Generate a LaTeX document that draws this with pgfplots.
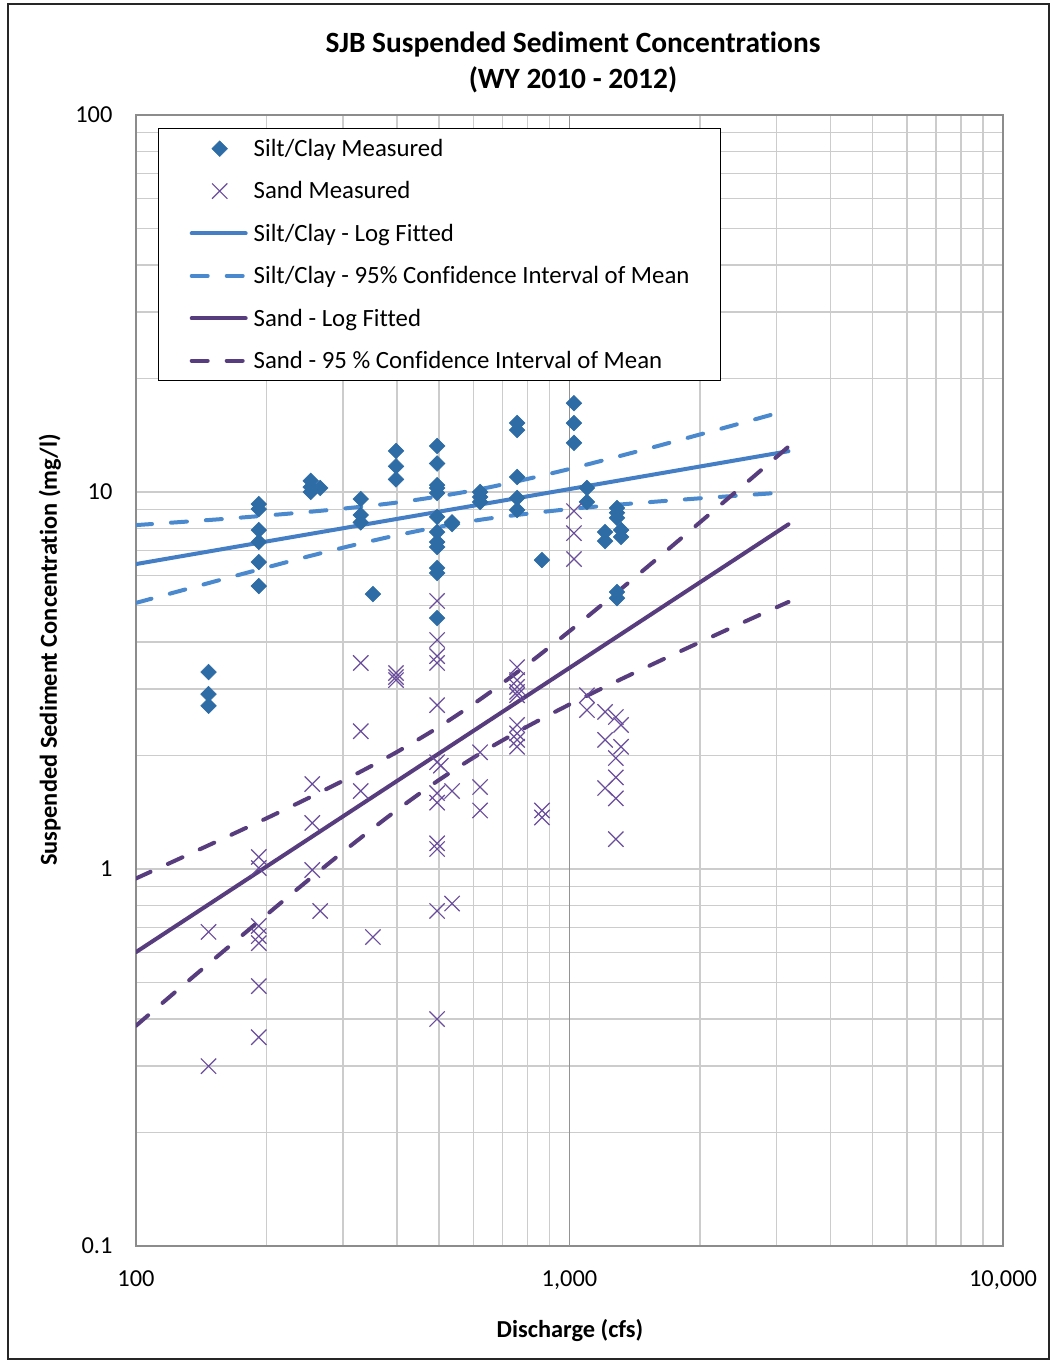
\documentclass[border=0pt]{standalone}
\usepackage{fontspec}
\setmainfont{Carlito}[Ligatures=NoCommon]
\usepackage{pgfplots}
\pgfplotsset{compat=1.18}
\definecolor{siltpt}{RGB}{46,108,166}
\definecolor{siltline}{RGB}{68,126,196}
\definecolor{siltdash}{RGB}{74,137,205}
\definecolor{sandpt}{RGB}{106,76,156}
\definecolor{sandline}{RGB}{88,61,126}
\definecolor{gridc}{RGB}{204,204,204}
\definecolor{axisc}{RGB}{140,140,140}
\pgfplotsset{
  marklegend/.style={legend image code/.code={\path[draw=none,fill=none] (0pt,-3pt) rectangle (29pt,3pt);
    \draw[##1] plot coordinates {(15pt,0pt)};}},
  linelegend/.style={legend image code/.code={\path[draw=none,fill=none] (0pt,-3pt) rectangle (29pt,3pt);
    \draw[##1] (1pt,0pt) -- (28pt,0pt);}},
}
\begin{document}
\fontsize{12.2}{14.6}\selectfont
\begin{tikzpicture}
\path[use as bounding box] (-68pt,-58pt) rectangle (457.5pt,623pt);
\fill[white] (-68pt,-58pt) rectangle (457.5pt,623pt);
\draw[line width=0.8pt, black!85] (-64pt,-56.5pt) rectangle (456.5pt,621pt);
\begin{loglogaxis}[
  at={(0pt,0pt)}, anchor=south west,
  scale only axis, width=433.5pt, height=565.5pt,
  xmin=100, xmax=10000, ymin=0.1, ymax=100,
  xtick={100,1000,10000}, xticklabels={100,{1,000},{10,000}},
  ytick={0.1,1,10,100}, yticklabels={0.1,1,10,100},
  minor xtick={200,300,400,500,600,700,800,900,2000,3000,4000,5000,6000,7000,8000,9000},
  minor ytick={0.2,0.3,0.4,0.5,0.6,0.7,0.8,0.9,2,3,4,5,6,7,8,9,20,30,40,50,60,70,80,90},
  grid=both,
  major grid style={color=gridc, line width=0.7pt},
  minor grid style={color=gridc, line width=0.7pt},
  extra x ticks={1000}, extra x tick labels={},
  extra x tick style={grid=major, major grid style={color=black!42, line width=0.7pt}},
  major tick length=0pt, minor tick length=0pt,
  axis line style={color=axisc, line width=0.7pt},
  tick label style={font=\fontsize{12.2}{14.6}\selectfont},
  xticklabel style={yshift=-8pt},
  yticklabel style={xshift=-7.5pt},
  title={SJB Suspended Sediment Concentrations\\(WY 2010 - 2012)},
  title style={at={(axis description cs:0.504,1.0358)}, anchor=center, align=center,
    font=\bfseries\fontsize{14.7}{18}\selectfont},
  xlabel={Discharge (cfs)},
  xlabel style={at={(axis description cs:0.5006,-0.0743)}, anchor=center,
    font=\bfseries\fontsize{12.2}{14.6}\selectfont},
  ylabel={Suspended Sediment Concentration (mg/l)},
  ylabel style={at={(axis description cs:-0.0992,0.527)}, anchor=center,
    font=\bfseries\fontsize{12.2}{14.6}\selectfont},
  legend cell align=left,
  legend style={at={(axis description cs:0.02538,0.98851)}, anchor=north west,
    draw=black, line width=0.7pt, fill=white, inner xsep=15.5pt, inner ysep=4.4pt,
    row sep=10pt, column sep=3pt,
    nodes={inner sep=0pt, text height=9.5pt, text depth=1.7pt},
    font=\fontsize{12.4}{14.8}\selectfont},
]
% Silt/Clay measured
\addplot[only marks, mark=square*, mark size=2.75pt,
  mark options={rotate=45, fill=siltpt, draw=siltpt, line width=0.3pt}, marklegend]
coordinates {
(147,3.33) (147,2.91) (147,2.71)
(192,9.29) (192,9.01) (192,7.93) (192,7.37) (192,6.52) (192,5.63)
(253,10.7) (253,10.3) (253,10.0) (266,10.25)
(330,9.58) (330,8.69) (330,8.31)
(352,5.36)
(398,12.85) (398,11.7) (398,10.8)
(495,13.24) (495,11.9) (495,10.43) (495,10.25) (495,9.94) (495,8.59) (495,7.83) (495,7.37) (495,7.15) (495,6.29) (495,6.10) (495,4.63)
(536,8.31) (536,8.22)
(622,10.0) (622,9.70) (622,9.41)
(757,15.24) (757,14.6) (757,10.96) (757,9.64) (757,8.96)
(864,6.6)
(1024,17.2) (1024,15.24) (1024,13.5)
(1097,10.25) (1097,9.41)
(1208,7.83) (1208,7.41)
(1287,9.07) (1287,8.81) (1287,8.54) (1287,5.43) (1287,5.23)
(1315,7.93) (1315,7.6)
};
\addlegendentry{Silt/Clay Measured}
% Sand measured
\addplot[only marks, mark=x, mark size=5.4pt,
  mark options={draw=sandpt, line width=0.6pt}, marklegend]
coordinates {
(147,0.681) (147,0.30)
(192,1.076) (192,1.006) (192,0.706) (192,0.664) (192,0.636) (192,0.489) (192,0.358)
(255,1.68) (255,1.325) (255,0.994) (266,0.774)
(330,3.52) (330,2.32) (330,1.61)
(352,0.66)
(398,3.31) (398,3.23) (398,3.17)
(495,5.14) (495,4.05) (495,3.67) (495,3.52) (495,2.72) (495,1.92) (505,1.88) (495,1.59) (495,1.50) (495,1.17) (495,1.13) (495,0.774) (495,0.40)
(536,1.61) (536,0.81)
(622,2.04) (622,1.65) (622,1.43)
(757,3.43) (757,3.17) (757,3.04) (757,2.95) (757,2.89) (757,2.41) (757,2.29) (757,2.20) (757,2.11)
(864,1.43) (864,1.37)
(1024,8.9) (1024,7.78) (1024,6.64)
(1097,2.89) (1097,2.64)
(1208,2.61) (1208,2.20) (1208,1.64)
(1279,2.53) (1279,1.97) (1279,1.75) (1279,1.54) (1279,1.20)
(1315,2.41) (1315,2.11)
};
\addlegendentry{Sand Measured}
% Silt fitted
\addplot[siltline, line width=2pt, mark=none, line cap=round, linelegend]
coordinates {(100,6.44) (3200,12.83)};
\addlegendentry{Silt/Clay - Log Fitted}
% Silt CI
\addplot[siltdash, line width=2pt, mark=none, line cap=round, dash pattern=on 8pt off 9.5pt, smooth, linelegend]
coordinates {(100,8.17)(125.9,8.32)(158.5,8.48)(199.5,8.66)(251.2,8.86)(316.2,9.09)(398.1,9.37)(501.2,9.74)(631,10.21)(794.3,10.81)(1000,11.51)(1258.9,12.32)(1584.9,13.21)(1995.3,14.20)(2511.9,15.27)(3200,16.5)};
\addlegendentry{Silt/Clay - 95\% Confidence Interval of Mean}
\addplot[siltdash, line width=2pt, mark=none, line cap=round, dash pattern=on 8pt off 9.5pt, smooth, forget plot]
coordinates {(100,5.08)(125.9,5.46)(158.5,5.87)(199.5,6.30)(251.2,6.76)(316.2,7.22)(398.1,7.67)(501.2,8.09)(631,8.46)(794.3,8.75)(1000,9.01)(1258.9,9.23)(1584.9,9.43)(1995.3,9.62)(2511.9,9.80)(3200,9.99)};
% Sand fitted
\addplot[sandline, line width=2pt, mark=none, line cap=round, linelegend]
coordinates {(100,0.602) (3200,8.21)};
\addlegendentry{Sand - Log Fitted}
% Sand CI
\addplot[sandline, line width=2pt, mark=none, line cap=round, dash pattern=on 8pt off 9.5pt, smooth, linelegend]
coordinates {(100,0.944)(125.9,1.065)(158.5,1.203)(199.5,1.361)(251.2,1.547)(316.2,1.767)(398.1,2.038)(501.2,2.387)(631,2.851)(794.3,3.468)(1000,4.274)(1258.9,5.307)(1584.9,6.624)(1995.3,8.29)(2511.9,10.39)(3200,13.19)};
\addlegendentry{Sand - 95 \% Confidence Interval of Mean}
\addplot[sandline, line width=2pt, mark=none, line cap=round, dash pattern=on 8pt off 9.5pt, smooth, forget plot]
coordinates {(100,0.384)(125.9,0.482)(158.5,0.603)(199.5,0.754)(251.2,0.940)(316.2,1.164)(398.1,1.428)(501.2,1.726)(631,2.045)(794.3,2.378)(1000,2.732)(1258.9,3.112)(1584.9,3.529)(1995.3,3.992)(2511.9,4.507)(3200,5.11)};
\end{loglogaxis}
\end{tikzpicture}
\end{document}
